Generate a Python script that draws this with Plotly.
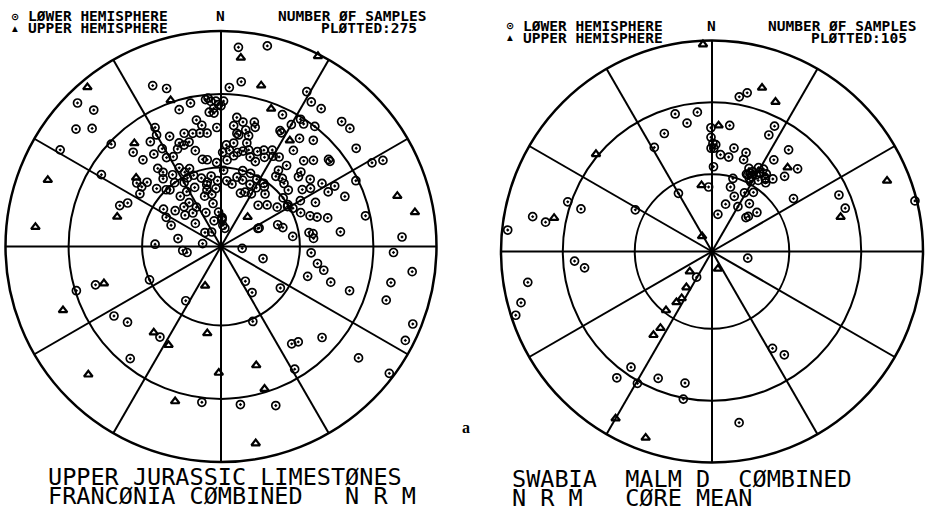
import numpy as np
import plotly.graph_objects as go

# ---------------------------------------------------------------------------
# Palaeomagnetic directions (declination, inclination in degrees).
# Positive inclination = lower hemisphere, negative = upper hemisphere.
# ---------------------------------------------------------------------------

# Franconia, Upper Jurassic limestones, NRM
DEC_FRANCONIA = [
    337, 341, 341, 343, 348, 3, 7, 14, 20, 32,
    36, 355, 354, 359, 0, 355, 357, 7, 15, 16,
    8, 9, 27, 28, 33, 34, 38, 37, 44, 47,
    51, 47, 38, 349, 351, 346, 349.5, 353, 358, 320,
    317, 326, 331, 329, 328.5, 332, 338, 340, 343, 321,
    309, 307, 307, 311, 303, 319.5, 326, 332, 334, 334,
    351, 357, 4, 5, 10, 13, 16, 21, 24, 28,
    3, 7, 348, 347, 318, 321, 328, 336, 342, 350,
    357, 5, 13, 18, 25, 31, 34, 20, 24, 298,
    293, 317, 311, 328, 2, 12, 327, 42, 42, 48,
    55, 64, 69, 73, 67, 71, 73, 81, 82, 48,
    53, 39, 37, 52, 58, 59, 50,
    5, 13, 6, 27, 320, 315, 317, 309, 312.5, 301,
    313, 291, 276, 292, 295, 286, 301, 280.5, 260, 252.5,
    253, 237, 231, 218, 214, 208, 219, 226, 253, 248,
    213, 245, 272, 202, 189, 145, 146, 157, 163.5, 181,
    187, 173, 163, 144, 141, 132, 149, 161, 170, 127,
    129, 196.5, 74, 80, 87, 92, 97.5, 102, 108, 112,
    117, 109, 85, 94, 100, 103, 108, 109, 125, 82,
    106, 83, 78, 64, 61, 62, 54, 44, 47.5, 29,
    32, 63, 68, 75,
    2, 2, 5, 311, 279, 264, 95, 64, 324, 349.5,
    320,
    356, 358, 357, 1, 10, 12, 6, 14, 1, 8,
    18, 26, 30, 14, 22, 33, 28, 36, 40, 30,
    22, 16, 344, 352, 355, 346, 339, 312, 316, 324,
    330, 322, 338, 335, 342, 324, 336, 345, 318, 330,
    55, 60, 57, 62, 45, 52, 25, 30, 36, 41,
    336, 356, 312, 345, 58, 62, 65, 303, 308, 348,
    2, 10, 42,
]
INC_FRANCONIA = [
    20, 23.5, -29, 34, 32.5, 27, 24, -24, -32.5, 22,
    22, 31.5, 32, 34.5, 35, 37.5, 38, 39.5, 40, 42,
    46, 46.5, 39.5, 40, -41, 32, 30, 43.5, 44, 41,
    36, 48, 56, 40, 42.5, 45, 45.5, 46, 44, -37.5,
    40, 41, 37, 46, 50, 51, 47, 48.5, 48, 51.5,
    -48, 49.5, 52, 52.5, 53, 56, 57, 56, 58.5, 61,
    56.5, 58, 57, 53, 53.5, 52.5, 51.5, 51, 49.5, 48,
    51, 50, 65, 66, 61, 65.5, 65.5, 65.5, 70, 70,
    65, 65, 63, 63.5, 64, 64, 61, 68.5, 67.5, 66.5,
    69.5, 69.5, 72, 72.5, 79, 83, 83.5, -75, 69, 66.5,
    64, 74, 67, 65.5, 57, 54, 51.5, 56, 54.5, 50,
    47, 50, 53.5, 36, 60, 60.5, 56.5,
    8, 5, -13, -1, -4, 6.5, 14.5, 14.5, 20, 14,
    31, -15, -14.5, 48, 50.5, -48.5, 35.5, 73.5, 77, -42.5,
    39, 40.5, 43.5, -48, 48, -47, 33.5, -15.5, 30.5, -22,
    65.5, 60, 65, -74, -56.5, 74, 69, 59, -42, -41,
    28, 27, -31.5, 43.5, 42.5, 37, 34, 23, -8, 2.5,
    19, -26, -16, -9.5, 17, 21, 11.5, 20.5, 20.5, 4.5,
    4.5, 37, 54.5, 55.5, 52.5, 49.5, 45.5, 55, 62.5, 62.5,
    73.5, 43.5, 32, 31, 21, 16, 23.5, 20.5, 20, 19,
    31, 43.5, 38, 47.5,
    79.5, 80, 82, 82, 83, 75.5, 82, 74.5, 69.5, 73.5,
    73.5,
    33, 33, 36, 33, 41, 44, 43, 46, 54, 55,
    54, 52, 50, 49, 55, 49, 61, 62, 64, 67,
    60, 60, 63, 63, 68, 68, 61, 57, 60, 60,
    62, 54, 58, 43, 44, 46, 49, 52, 45, 40,
    52, 55, 49, 59, 56, 60, 33, 35, 38, 35,
    76, 77, 77, 80, 44, 40, 50, 64, 68, 56,
    61, 66, 55,
]

# Swabia, Malm delta, core means, NRM
DEC_SWABIA = [
    10, 12.5, 17, 23, 345, 349, 354, 338, 359.5, 3,
    8, 359.5, 0.5, 2, 359.5, 1, 5, 10, 12, 19,
    19, 26.5, 26, 34, 37, 42, 46, 44, 57, 331,
    1, 330, 298.5, 351, 357, 16, 24, 27, 30, 28,
    25, 29, 36, 36.5, 16, 29, 35, 22, 16, 30,
    38, 49, 45, 46, 9, 327,
    357.5, 310, 289, 288, 281, 282, 280, 276, 260.5, 266,
    262.7, 255, 252, 228, 211, 161, 215.5, 213, 215, 218,
    214, 215, 215, 217, 209.5, 210, 199.6, 203, 191.6, 191,
    171, 148, 145, 66, 72, 75, 68, 76, 100.5,
    26, 31, 33, 35, 27, 38, 32, 24, 29, 40,
]
INC_SWABIA = [
    26.5, 24, -20, -24, 33, 38, 34, 39.5, 41, -40,
    39.5, 45, 47.5, 48, 49.5, 49.5, 52, 52.5, 48.5, 49,
    52, 34, 38.5, 46.5, 39.5, -45.5, 43, 49, 52, 43,
    57, 64, 56, -64, 65, 60.5, 54.5, 55, 55.5, 57,
    57, 52.5, 54.5, 55, 64, 64, 62, 67, 71, 70,
    66.5, 67, 71.5, 70.5, 75.5, -83,
    -2, -29, 28.5, 35, 14.5, -24.5, 21, 3, 12.5, 35,
    39, 7, 2.5, -78.5, 78.5, -83, -73, -68.5, -66, -61,
    -54, -50, 33.5, 26, 29, -9.5, -7, 35, 36.5, 29.5,
    19, 45, 40, 34.5, 34, -37, -11.5, 1, 76,
    56, 54, 57, 53, 58, 56, 52, 57, 59, 53,
]

# Inclination circles of the net and spacing of the declination spokes
RING_INCLINATIONS = [60, 30]
SPOKE_STEP = 30

TITLE_FRANCONIA = ["UPPER JURASSIC LIMESTØNES", "FRANCØNIA CØMBINED   N R M"]
TITLE_SWABIA = ["SWABIA  MALM D  CØMBINED", "N R M   CØRE MEAN"]

W, H = 930, 511
MONO = "DejaVu Sans Mono, Liberation Mono, monospace"


def equal_area(inc):
    """Lambert (Schmidt) equal-area radius, 1 on the horizontal."""
    inc = np.abs(np.asarray(inc, dtype=float))
    return np.sqrt(2.0) * np.sin(np.radians(90.0 - inc) / 2.0)


def add_directions(fig, dec, inc, subplot):
    dec = np.asarray(dec, dtype=float)
    inc = np.asarray(inc, dtype=float)
    lower = inc >= 0
    fig.add_trace(go.Scatterpolar(
        r=equal_area(inc[lower]), theta=dec[lower], mode="markers",
        subplot=subplot, showlegend=False, hoverinfo="skip",
        marker=dict(symbol="circle-open-dot", size=8, color="black",
                    line=dict(width=1.7, color="black")),
    ))
    fig.add_trace(go.Scatterpolar(
        r=equal_area(inc[~lower]), theta=dec[~lower], mode="markers",
        subplot=subplot, showlegend=False, hoverinfo="skip",
        marker=dict(symbol="triangle-up-open", size=7.5, color="black",
                    line=dict(width=2.2, color="black")),
    ))


def polar_axes(cx, cy, rad):
    return dict(
        domain=dict(x=[(cx - rad) / W, (cx + rad) / W],
                    y=[(H - cy - rad) / H, (H - cy + rad) / H]),
        bgcolor="white",
        radialaxis=dict(range=[0, 1], tickvals=list(equal_area(RING_INCLINATIONS)),
                        showticklabels=False, ticks="", showline=False,
                        gridcolor="black", gridwidth=2, layer="below traces"),
        angularaxis=dict(rotation=90, direction="clockwise", tickmode="linear",
                         tick0=0, dtick=SPOKE_STEP, showticklabels=False, ticks="",
                         showline=True, linecolor="black", linewidth=2.5,
                         gridcolor="black", gridwidth=1.9, layer="below traces"),
    )


def label(x, y, text, size, anchor="left", family=MONO, bold=False):
    t = f"<b>{text}</b>" if bold else text
    return dict(x=x / W, y=1 - y / H, xref="paper", yref="paper", text=t,
                showarrow=False, xanchor=anchor, yanchor="middle", borderpad=0,
                font=dict(family=family, size=size, color="black"))


fig = go.Figure()
add_directions(fig, DEC_FRANCONIA, INC_FRANCONIA, "polar")
add_directions(fig, DEC_SWABIA, INC_SWABIA, "polar2")

annotations = []
# header blocks (legend, north mark, sample count) for both nets
for x0, y0, count, n_x, num_x, right_x in [
    (0, 16.5, len(DEC_FRANCONIA), 220, 277, 418),
    (495, 25.5, len(DEC_SWABIA), 711, 767, 908),
]:
    annotations += [
        label(x0 + 15, y0, "⊙", 10, "center", "DejaVu Sans", bold=True),
        label(x0 + 15, y0 + 12, "▲", 7.5, "center", "DejaVu Sans"),
        label(x0 + 27, y0, "LØWER HEMISPHERE", 14.5, bold=True),
        label(x0 + 27, y0 + 12, "UPPER HEMISPHERE", 14.5, bold=True),
        label(n_x, y0, "N", 14.5, "center", bold=True),
        label(num_x, y0, "NUMBER ØF SAMPLES", 14.5, bold=True),
        label(right_x, y0 + 12, f"PLØTTED:{count}", 14.5, "right", bold=True),
    ]

annotations += [
    label(47, 477, TITLE_FRANCONIA[0], 23.5),
    label(47, 496, TITLE_FRANCONIA[1], 23.5),
    label(511, 479, TITLE_SWABIA[0], 23.5),
    label(511, 497.5, TITLE_SWABIA[1], 23.5),
    label(466, 427, "a", 16, "center", "Liberation Serif, Times New Roman, serif", bold=True),
]

fig.update_layout(
    width=W, height=H,
    margin=dict(l=0, r=0, t=0, b=0),
    paper_bgcolor="white", plot_bgcolor="white",
    polar=polar_axes(221, 246.5, 215.5),
    polar2=polar_axes(712, 251.5, 211),
    annotations=annotations,
    showlegend=False,
)

fig.write_html("out.html")
